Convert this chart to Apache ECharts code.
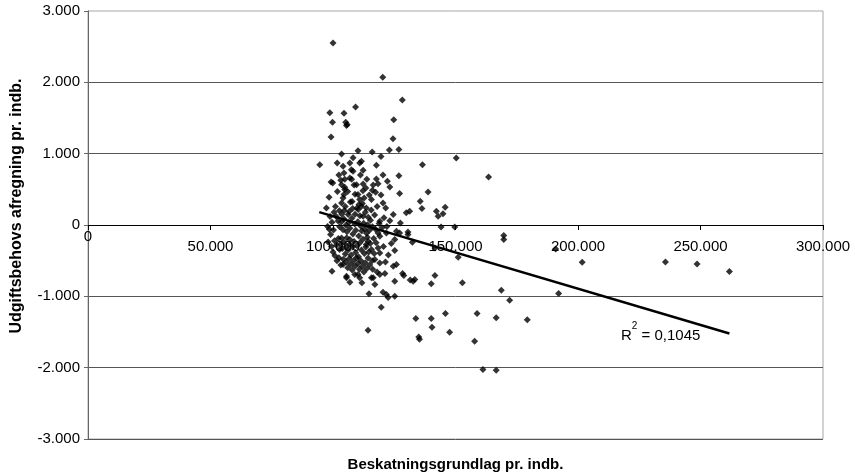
<!DOCTYPE html>
<html>
<head>
<meta charset="utf-8">
<script src="https://cdn.jsdelivr.net/npm/echarts@6/dist/echarts.min.js"></script>
<style>
  html, body { margin: 0; padding: 0; background: #fff; }
  #chart { width: 855px; height: 476px; }
</style>
</head>
<body>
<div id="chart"></div>
<script>
// Kommuner: beskatningsgrundlag pr. indb. (kr.) mod udgiftsbehovs afregning pr. indb. (kr.)

// Kommuner over nul
const kommunerOver = [
  [100000,2550],[120300,2070],[128300,1752],[98700,1574],[104500,1565],[109200,1654],
  [99800,1439],[105200,1440],[105800,1410],[105500,1395],[124800,1476],[99200,1234],
  [124500,1210],[103500,995],[108200,944],[110200,1042],[116000,1024],[119600,962],
  [123000,1052],[126900,1060],[150300,940],[94600,846],[101700,870],[104100,822],
  [106900,870],[110900,870],[111600,892],[117700,836],[136500,846],[104500,730],
  [107500,776],[108200,752],[112300,766],[103200,626],[99200,604],[99900,590],
  [106900,660],[107600,640],[117700,646],[122200,612],[126900,692],[103500,566],
  [109600,566],[104800,528],[112300,576],[123200,534],[104800,496],[116100,486],
  [117400,458],[127200,440],[138800,464],[104500,426],[110200,426],[98400,388],
  [104100,380],[110900,356],[112700,380],[103500,310],[107100,324],[110600,286],
  [115700,356],[120400,310],[135600,332],[136300,230],[97300,240],[104600,202],
  [110300,216],[111600,262],[108000,230],[113600,240],[121500,240],[124600,146],
  [129900,170],[131300,192],[142200,192],[145800,248],[144900,156],[142900,122],
  [106200,146],[112300,122],[119100,52],[127500,29],[163500,673],
  [104800,640],[102400,700],[108600,560],[111200,700],[113400,520],[114800,420],
  [101800,470],[106000,470],[109000,430],[113800,640],[116400,560],[119600,420],
  [120400,700],[118400,580],[112200,480],
  [101000,260],[102600,200],[103600,150],[105000,260],[106600,190],[107800,330],
  [109000,150],[109800,240],[111000,130],[112000,300],[113200,180],[114400,110],
  [115600,210],[117000,140],[118000,260],[100400,180],[98800,120],[99600,40]
];

// Kommuner omkring nul
const kommunerKerne = [
  [101300,120],[102100,55],[102700,-25],[103500,45],[104100,-65],[104500,85],
  [105300,-5],[105700,-95],[106500,35],[106900,-45],[107700,95],[108100,-125],
  [108900,15],[109300,-75],[110100,45],[110500,-155],[111300,-15],[111700,-85],
  [112500,25],[112900,-55],[113700,-115],[114100,5],[114900,-75],[115300,65],
  [116100,-25],[117400,-60],[118800,20],[120000,-40],[120800,100],[122000,-20],
  [123200,60],[100200,-70],[97800,-20],[98500,-60],[99000,-134],
  [144100,-27],[149700,-27],[125900,-88],[127200,-111],[130600,-97],[118400,-111],
  [121800,-111],[119100,-158],[169700,-148],[169700,-204],[125200,-204],
  [130600,-134],[132400,-242]
];

// Kommuner under nul
const kommunerUnder = [
  [100600,-220],[101400,-285],[102200,-190],[103100,-265],[103800,-330],[104400,-240],
  [105000,-405],[105600,-180],[106200,-350],[106800,-270],[107400,-420],[108000,-310],
  [108600,-230],[109200,-385],[109800,-290],[110400,-445],[111000,-250],[111600,-350],
  [112200,-200],[112800,-400],[113400,-310],[114000,-170],[114600,-380],[115200,-260],
  [116600,-190],[100800,-430],[101600,-500],[102400,-460],[103200,-560],[104200,-480],
  [105400,-520],[106000,-600],[106600,-470],[107200,-550],[107800,-630],[108400,-500],
  [109000,-580],[109600,-460],[110200,-540],[110800,-620],[111400,-500],[112000,-580],
  [112600,-660],[113200,-530],[113800,-610],[115000,-560],[116200,-620],
  [99400,-300],[100000,-380],[98000,-240],[116800,-400],[117600,-250],[120600,-300],
  [122600,-420],[123800,-260],[121400,-520],[116000,-500],
  [103500,-181],[106900,-204],[102700,-344],[105500,-298],[104100,-555],[105500,-718],
  [108900,-695],[110900,-741],[115700,-741],[118000,-660],[114300,-228],
  [113600,-275],[115700,-344],[118400,-321],[119100,-391],[125200,-358],[114300,-461],
  [117100,-485],[119100,-531],[124600,-578],[125900,-555],[128400,-680],[131500,-770],
  [133400,-765],[141600,-321],[151100,-452],[190900,-335],[201700,-522],[235700,-517],
  [248600,-545],[261800,-653],
  [99600,-648],[105500,-741],[106900,-802],[110200,-695],[111800,-811],[116400,-741],
  [117100,-835],[119100,-695],[121200,-681],[125200,-788],[128900,-709],[132700,-788],
  [140100,-825],[141600,-709],[152800,-811],[114700,-965],[120400,-943],[121800,-975],
  [125200,-999],[122500,-1015],[119700,-1153],[168700,-914],[172100,-1054],[192100,-961],
  [158800,-1241],[166600,-1301],[179300,-1329],[133800,-1311],[140100,-1311],
  [145900,-1241],[114300,-1475],[140400,-1433],[147600,-1503],[135000,-1570],
  [135300,-1600],[157800,-1629],[161200,-2025],[166600,-2035]
];

// Lineær tendenslinje (endepunkter)
const trendX = [94400, 261800];
const trendY = [180, -1521];
const rKvadrat = '0,1045';

const xTicks = { min: 0, max: 300000, step: 50000 };
const yTicks = { min: -3000, max: 3000, step: 1000 };

function tal(v) {
  const s = Math.abs(v).toString().replace(/\B(?=(\d{3})+(?!\d))/g, '.');
  return (v < 0 ? '-' : '') + s;
}

const punkter = kommunerOver.concat(kommunerKerne, kommunerUnder);
const trend = trendX.map((x, i) => [x, trendY[i]]);

const font = "'Liberation Sans', Arial, sans-serif";
const plot = { left: 88, right: 32, top: 11, bottom: 37 };
const plotHeight = 476 - plot.top - plot.bottom;

const chart = echarts.init(document.getElementById('chart'), null, { renderer: 'canvas' });

chart.setOption({
  animation: false,
  backgroundColor: '#ffffff',
  textStyle: { fontFamily: font },
  grid: {
    left: plot.left, right: plot.right, top: plot.top, bottom: plot.bottom,
    show: true, borderColor: '#a6a6a6', borderWidth: 1, backgroundColor: 'transparent'
  },
  xAxis: {
    type: 'value',
    min: xTicks.min, max: xTicks.max, interval: xTicks.step,
    position: 'bottom',
    // the x axis crosses the y axis at 0, which sits mid-height of the symmetric y range
    offset: -plotHeight / 2,
    axisLine: { show: true, onZero: false, lineStyle: { color: '#000', width: 1 } },
    axisTick: { show: true, length: 5, lineStyle: { color: '#000' } },
    splitLine: { show: false },
    axisLabel: {
      margin: 3,
      color: '#000',
      fontFamily: font,
      formatter: v => v === 0 ? '{z|0}' : '{n|' + tal(v) + '}',
      rich: {
        n: { fontSize: 15, lineHeight: 38, fontFamily: font, color: '#000' },
        z: { fontSize: 15, lineHeight: 18, fontFamily: font, color: '#000' }
      }
    }
  },
  yAxis: {
    type: 'value',
    min: yTicks.min, max: yTicks.max, interval: yTicks.step,
    axisLine: { show: true, onZero: false, lineStyle: { color: '#666', width: 1 } },
    axisTick: { show: true, length: 4, lineStyle: { color: '#666' } },
    axisLabel: { margin: 8, fontSize: 15, color: '#000', fontFamily: font, formatter: tal },
    splitLine: { show: true, showMaxLine: false, lineStyle: { color: '#555', width: 1 } }
  },
  series: [{
    type: 'scatter',
    data: punkter,
    symbol: 'diamond',
    symbolSize: 7,
    itemStyle: { color: '#000' },
    z: 3
  }, {
    type: 'line',
    data: trend,
    symbol: 'none',
    lineStyle: { color: '#000', width: 2.5 },
    z: 4
  }],
  graphic: [{
    type: 'text',
    left: 621,
    top: 321,
    z: 10,
    style: {
      text: '{r|R}{s|2}{r| = ' + rKvadrat + '}',
      rich: {
        r: { fontSize: 15, lineHeight: 30, fontFamily: font, fill: '#000' },
        s: { fontSize: 10, lineHeight: 10, verticalAlign: 'top', fontFamily: font, fill: '#000' }
      }
    }
  }, {
    type: 'text',
    x: 455.5,
    y: 457,
    z: 10,
    style: {
      text: 'Beskatningsgrundlag pr. indb.',
      fontSize: 15, fontWeight: 'bold', fontFamily: font, fill: '#000',
      align: 'center', verticalAlign: 'top'
    }
  }, {
    type: 'text',
    x: 17,
    y: 206,
    rotation: Math.PI / 2,
    z: 10,
    style: {
      text: 'Udgiftsbehovs afregning pr. indb.',
      fontSize: 16, fontWeight: 'bold', fontFamily: font, fill: '#000',
      align: 'center', verticalAlign: 'middle'
    }
  }]
});
</script>
</body>
</html>
